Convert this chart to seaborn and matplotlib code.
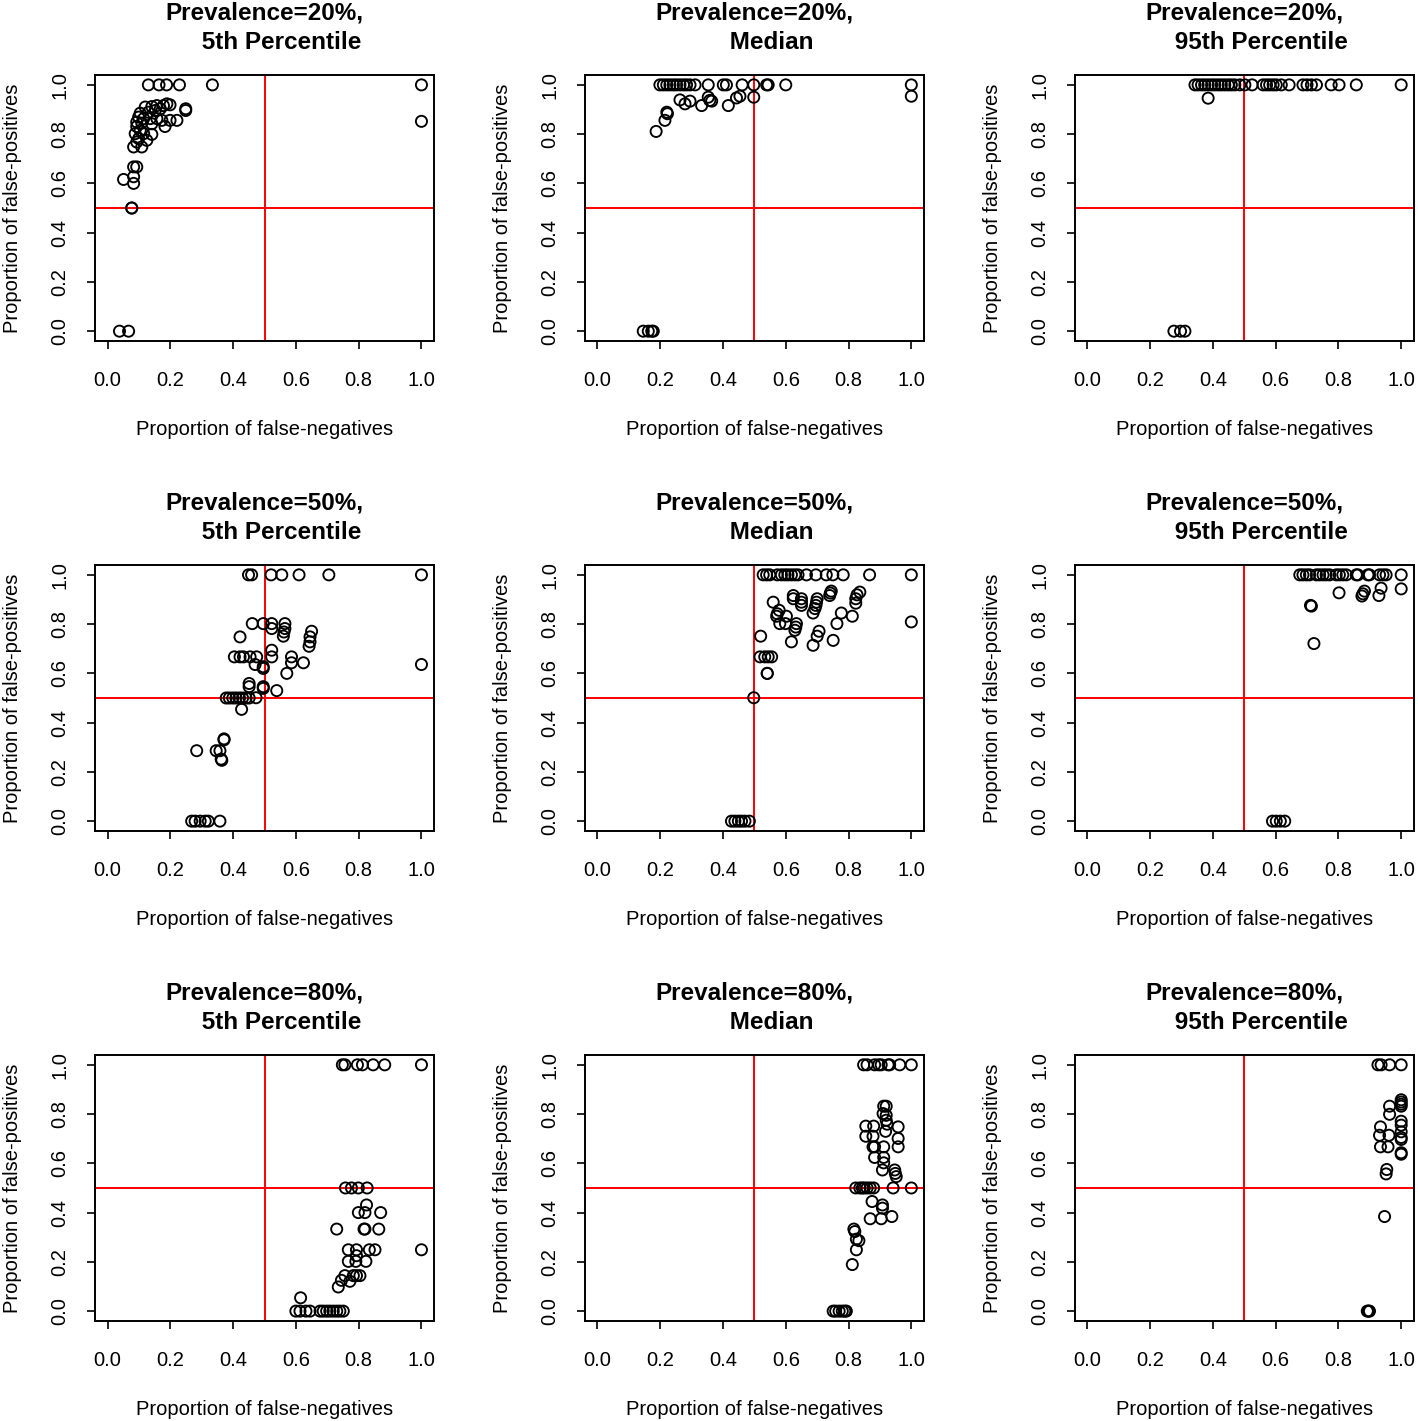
import numpy as np
import pandas as pd
import matplotlib
matplotlib.use("Agg")
import matplotlib.pyplot as plt
import seaborn as sns

# proportion of false-negatives (x) and false-positives (y) per simulation scenario
x20_p05 = [0.130, 0.164, 0.188, 0.229, 0.334, 1.000, 1.000,
           0.249, 0.249, 0.189, 0.199, 0.178, 0.157, 0.141, 0.120, 0.168, 0.152,
           0.130, 0.104, 0.099, 0.115, 0.136, 0.157, 0.173, 0.199, 0.221, 0.093,
           0.109, 0.141, 0.183, 0.093, 0.104, 0.088, 0.115, 0.141, 0.099, 0.125,
           0.093, 0.083, 0.109,
           0.083, 0.093, 0.051, 0.083, 0.083, 0.077, 0.077, 0.038, 0.067]
y20_p05 = [1.0, 1.0, 1.0, 1.0, 1.0, 1.0, 0.852,
           0.903, 0.896, 0.923, 0.919, 0.916, 0.916, 0.912, 0.910, 0.903, 0.896,
           0.889, 0.885, 0.869, 0.863, 0.863, 0.863, 0.856, 0.856, 0.856, 0.849,
           0.845, 0.842, 0.831, 0.831, 0.815, 0.802, 0.802, 0.799, 0.782, 0.775,
           0.768, 0.748, 0.748,
           0.667, 0.667, 0.616, 0.627, 0.600, 0.500, 0.500, 0.0, 0.0]

x20_med = [0.199, 0.210, 0.221, 0.231, 0.242, 0.252, 0.263, 0.274, 0.284, 0.295,
           0.311, 0.353, 0.401, 0.411, 0.461, 0.498, 0.539, 0.544, 0.600, 1.000,
           1.000, 0.498, 0.454, 0.443, 0.417, 0.332, 0.353, 0.358, 0.364, 0.263,
           0.279, 0.295, 0.221, 0.223, 0.215, 0.187,
           0.146, 0.162, 0.173, 0.178]
y20_med = [1.0, 1.0, 1.0, 1.0, 1.0, 1.0, 1.0, 1.0, 1.0, 1.0,
           1.0, 1.0, 1.0, 1.0, 1.0, 1.0, 1.0, 1.0, 1.0, 1.0,
           0.954, 0.950, 0.954, 0.947, 0.916, 0.916, 0.950, 0.937, 0.934, 0.939,
           0.923, 0.934, 0.889, 0.883, 0.856, 0.811,
           0.0, 0.0, 0.0, 0.0]

x20_p95 = [0.343, 0.353, 0.364, 0.374, 0.385, 0.396, 0.406, 0.417, 0.427, 0.438,
           0.449, 0.459, 0.470, 0.486, 0.502, 0.525, 0.560, 0.571, 0.581, 0.592,
           0.602, 0.618, 0.643, 0.687, 0.700, 0.714, 0.730, 0.777, 0.802, 0.857,
           1.000, 0.385,
           0.276, 0.297, 0.311]
y20_p95 = [1.0, 1.0, 1.0, 1.0, 1.0, 1.0, 1.0, 1.0, 1.0, 1.0,
           1.0, 1.0, 1.0, 1.0, 1.0, 1.0, 1.0, 1.0, 1.0, 1.0,
           1.0, 1.0, 1.0, 1.0, 1.0, 1.0, 1.0, 1.0, 1.0, 1.0,
           1.0, 0.946,
           0.0, 0.0, 0.0]

x50_p05 = [0.449, 0.459, 0.521, 0.555, 0.610, 0.705, 1.000, 1.000,
           0.461, 0.496, 0.523, 0.523, 0.565, 0.565, 0.562, 0.560,
           0.650, 0.645, 0.645, 0.642, 0.422, 0.523,
           0.404, 0.422, 0.433, 0.454, 0.475, 0.523,
           0.470, 0.496, 0.496, 0.586, 0.586, 0.624, 0.571,
           0.451, 0.451, 0.496, 0.496, 0.539,
           0.378, 0.388, 0.399, 0.409, 0.420, 0.430, 0.441, 0.451, 0.473, 0.427,
           0.371, 0.371, 0.284, 0.346, 0.358, 0.362, 0.364,
           0.268, 0.279, 0.295, 0.311, 0.321, 0.358]
y50_p05 = [1.0, 1.0, 1.0, 1.0, 1.0, 1.0, 1.0, 0.636,
           0.802, 0.802, 0.802, 0.782, 0.802, 0.782, 0.768, 0.751,
           0.771, 0.748, 0.728, 0.710, 0.748, 0.694,
           0.667, 0.667, 0.667, 0.667, 0.667, 0.667,
           0.636, 0.627, 0.620, 0.667, 0.643, 0.643, 0.600,
           0.559, 0.546, 0.546, 0.539, 0.530,
           0.5, 0.5, 0.5, 0.5, 0.5, 0.5, 0.5, 0.5, 0.501, 0.454,
           0.334, 0.330, 0.286, 0.286, 0.286, 0.252, 0.247,
           0.0, 0.0, 0.0, 0.0, 0.0, 0.0]

x50_med = [0.528, 0.539, 0.549, 0.573, 0.586, 0.597, 0.607, 0.618, 0.629, 0.639,
           0.666, 0.696, 0.729, 0.750, 0.783, 0.867, 1.000, 1.000,
           0.836, 0.827, 0.823, 0.823, 0.745, 0.742, 0.740,
           0.624, 0.624, 0.650, 0.650, 0.650,
           0.700, 0.698, 0.696, 0.693, 0.687, 0.560,
           0.579, 0.573, 0.571, 0.602, 0.581, 0.599, 0.634, 0.632, 0.629,
           0.777, 0.812, 0.763, 0.706, 0.700, 0.751, 0.687, 0.618, 0.520,
           0.518, 0.533, 0.544, 0.555, 0.541, 0.541, 0.498,
           0.427, 0.438, 0.449, 0.459, 0.470, 0.484]
y50_med = [1.0, 1.0, 1.0, 1.0, 1.0, 1.0, 1.0, 1.0, 1.0, 1.0,
           1.0, 1.0, 1.0, 1.0, 1.0, 1.0, 1.0, 0.809,
           0.930, 0.919, 0.903, 0.885, 0.934, 0.926, 0.916,
           0.916, 0.903, 0.903, 0.889, 0.876,
           0.903, 0.889, 0.876, 0.863, 0.845, 0.889,
           0.856, 0.842, 0.832, 0.832, 0.802, 0.802, 0.802, 0.788, 0.775,
           0.845, 0.832, 0.802, 0.771, 0.751, 0.734, 0.714, 0.728, 0.751,
           0.667, 0.667, 0.667, 0.667, 0.600, 0.600, 0.501,
           0.0, 0.0, 0.0, 0.0, 0.0, 0.0]

x50_p95 = [0.677, 0.687, 0.698, 0.708, 0.730, 0.740, 0.751, 0.761, 0.772, 0.793,
           0.803, 0.814, 0.825, 0.857, 0.862, 0.894, 0.899, 0.931, 0.942, 0.952,
           1.000, 1.000, 0.936, 0.929, 0.883, 0.878, 0.875, 0.802,
           0.711, 0.714, 0.722,
           0.590, 0.602, 0.615, 0.629]
y50_p95 = [1.0, 1.0, 1.0, 1.0, 1.0, 1.0, 1.0, 1.0, 1.0, 1.0,
           1.0, 1.0, 1.0, 1.0, 1.0, 1.0, 1.0, 1.0, 1.0, 1.0,
           1.0, 0.943, 0.946, 0.916, 0.934, 0.923, 0.914, 0.927,
           0.876, 0.873, 0.721,
           0.0, 0.0, 0.0, 0.0]

x80_p05 = [0.748, 0.756, 0.796, 0.812, 0.846, 0.883, 1.000,
           0.758, 0.777, 0.799, 0.827, 0.825,
           0.799, 0.820, 0.870, 0.730, 0.817, 0.820, 0.864,
           0.767, 0.793, 0.834, 0.852, 1.000,
           0.767, 0.791, 0.823, 0.793,
           0.756, 0.783, 0.793, 0.804, 0.745, 0.772, 0.735, 0.615,
           0.600, 0.613, 0.632, 0.645, 0.677, 0.687, 0.698, 0.708, 0.719, 0.730,
           0.740, 0.751]
y80_p05 = [1.0, 1.0, 1.0, 1.0, 1.0, 1.0, 1.0,
           0.5, 0.5, 0.5, 0.5, 0.431,
           0.400, 0.400, 0.400, 0.333, 0.333, 0.333, 0.333,
           0.249, 0.249, 0.249, 0.249, 0.249,
           0.202, 0.202, 0.202, 0.225,
           0.144, 0.144, 0.144, 0.144, 0.125, 0.121, 0.098, 0.054,
           0.0, 0.0, 0.0, 0.0, 0.0, 0.0, 0.0, 0.0, 0.0, 0.0,
           0.0, 0.0]

x80_med = [0.848, 0.859, 0.883, 0.896, 0.904, 0.926, 0.931, 0.963, 1.000,
           0.912, 0.920, 0.910, 0.920, 0.920, 0.923, 0.918,
           0.855, 0.880, 0.855, 0.878, 0.958, 0.958, 0.958,
           0.878, 0.883, 0.912, 0.883, 0.912, 0.912, 0.908,
           0.947, 0.949, 0.952,
           0.823, 0.836, 0.844, 0.850, 0.859, 0.869, 0.880, 0.942, 1.000,
           0.875, 0.908, 0.908, 0.869, 0.904, 0.938,
           0.817, 0.820, 0.825, 0.833, 0.825, 0.812,
           0.751, 0.759, 0.770, 0.780, 0.788, 0.793]
y80_med = [1.0, 1.0, 1.0, 1.0, 1.0, 1.0, 1.0, 1.0, 1.0,
           0.832, 0.832, 0.802, 0.795, 0.775, 0.759, 0.730,
           0.751, 0.751, 0.710, 0.710, 0.748, 0.701, 0.667,
           0.667, 0.667, 0.667, 0.624, 0.624, 0.602, 0.573,
           0.573, 0.559, 0.546,
           0.5, 0.5, 0.5, 0.5, 0.5, 0.5, 0.5, 0.5, 0.5,
           0.445, 0.431, 0.418, 0.375, 0.375, 0.384,
           0.333, 0.323, 0.292, 0.286, 0.249, 0.189,
           0.0, 0.0, 0.0, 0.0, 0.0, 0.0]

x80_p95 = [0.926, 0.936, 0.963, 1.000,
           1.000, 1.000, 1.000, 1.000, 0.963, 0.963, 1.000, 1.000,
           0.934, 0.931, 0.961, 0.934, 0.958,
           1.000, 1.000, 1.000, 1.000, 1.000,
           0.954, 0.952, 0.947,
           0.892, 0.896, 0.899]
y80_p95 = [1.0, 1.0, 1.0, 1.0,
           0.858, 0.849, 0.840, 0.832, 0.832, 0.799, 0.771, 0.755,
           0.748, 0.714, 0.714, 0.667, 0.667,
           0.728, 0.705, 0.697, 0.643, 0.637,
           0.575, 0.557, 0.384,
           0.0, 0.0, 0.0]

prevalences = ["20%", "50%", "80%"]
statistics = ["5th Percentile", "Median", "95th Percentile"]
panel_x = [[x20_p05, x20_med, x20_p95],
           [x50_p05, x50_med, x50_p95],
           [x80_p05, x80_med, x80_p95]]
panel_y = [[y20_p05, y20_med, y20_p95],
           [y50_p05, y50_med, y50_p95],
           [y80_p05, y80_med, y80_p95]]
tick_values = [0.0, 0.2, 0.4, 0.6, 0.8, 1.0]

sns.set_theme(style="ticks")
plt.rcParams['font.family'] = ['Liberation Sans', 'DejaVu Sans']
plt.rcParams['axes.edgecolor'] = 'black'
plt.rcParams['axes.linewidth'] = 1.4
plt.rcParams['axes.labelcolor'] = 'black'
plt.rcParams['text.color'] = 'black'
plt.rcParams['xtick.color'] = 'black'
plt.rcParams['ytick.color'] = 'black'

fig, axes = plt.subplots(3, 3, figsize=(14.18, 14.21), dpi=100)
fig.subplots_adjust(left=0.067, right=0.997, bottom=0.0704, top=0.9472,
                    wspace=0.445, hspace=0.842)

for i, prev in enumerate(prevalences):
    for j, stat in enumerate(statistics):
        ax = axes[i, j]
        df = pd.DataFrame({'fn': panel_x[i][j], 'fp': panel_y[i][j]})

        # open circles, like R's default pch = 1
        sns.scatterplot(data=df, x='fn', y='fp', ax=ax, marker='o', s=64,
                        facecolors='none', edgecolor='black', linewidth=1.35,
                        zorder=3)

        # reference lines at 0.5
        ax.axhline(0.5, color='red', linewidth=1.4, zorder=2)
        ax.axvline(0.5, color='red', linewidth=1.4, zorder=2)

        ax.set_xlim(-0.04, 1.04)
        ax.set_ylim(-0.04, 1.04)
        ax.set_xticks(tick_values)
        ax.set_yticks(tick_values)
        ax.set_xticklabels([f'{t:.1f}' for t in tick_values], fontsize=14.5)
        ax.set_yticklabels([f'{t:.1f}' for t in tick_values], fontsize=14.5,
                           rotation=90, va='center')
        ax.tick_params(axis='x', length=6, width=1.2, pad=15.5)
        ax.tick_params(axis='y', length=6, width=1.2, pad=12.5)

        ax.set_xlabel('Proportion of false-negatives', fontsize=14.5, labelpad=22)
        ax.set_ylabel('Proportion of false-positives', fontsize=14.5, labelpad=20.5)
        ax.set_title(f'Prevalence={prev},\n     {stat}', fontsize=17.5,
                     fontweight='bold', pad=18.5, linespacing=1.4)
        for side in ['top', 'right', 'bottom', 'left']:
            ax.spines[side].set_visible(True)

fig.savefig('out.png', dpi=100)
